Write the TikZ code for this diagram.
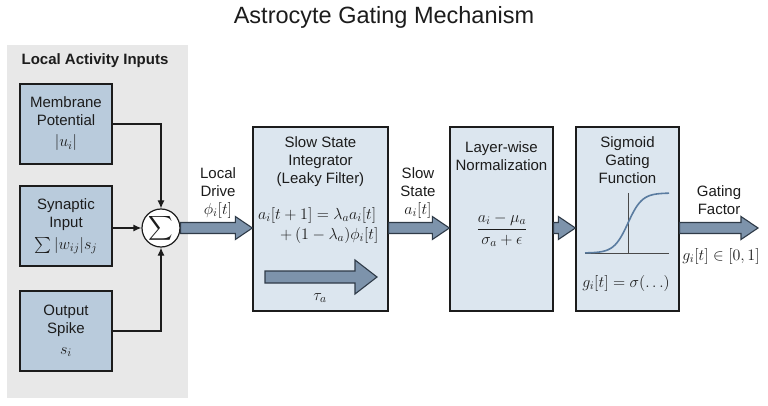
\RequirePackage{fix-cm}
\documentclass[tikz,border=0pt]{standalone}
\usepackage{amsmath, amssymb}
\usepackage{fontspec}
\setmainfont{Liberation Sans}
\usepackage{tikz}
\usetikzlibrary{calc, positioning, arrows.meta}
\DeclareMathSizes{15}{16}{11.5}{9}

\definecolor{panelgray}{HTML}{E8E8E8}
\definecolor{inputblue}{HTML}{B9CBDC}
\definecolor{stageblue}{HTML}{DCE6EF}
\definecolor{arrowblue}{HTML}{7D93AB}
\definecolor{arrowline}{HTML}{2F3B48}
\definecolor{curveblue}{HTML}{5A7CA0}
\definecolor{inkdark}{HTML}{1C1C1C}

\newcommand{\fatarrow}[2]{%
  \draw[bigarrow] let \p1=(#1), \p2=(#2) in
    (\x1,\y1+5.5) -- (\x2-17,\y1+5.5) -- (\x2-17,\y1+11.5) -- (\x2,\y1)
    -- (\x2-17,\y1-11.5) -- (\x2-17,\y1-5.5) -- (\x1,\y1-5.5) -- cycle;}

\begin{document}
\begin{tikzpicture}[x=1pt, y=-1pt,
  font=\fontsize{15}{18}\selectfont, text=inkdark,
  inbox/.style={draw=inkdark, line width=1.3pt, fill=inputblue, align=center,
    minimum width=92pt, minimum height=80pt, inner sep=2pt},
  stagebox/.style={draw=inkdark, line width=1.3pt, fill=stageblue,
    minimum height=184pt},
  boxtitle/.style={align=center, inner sep=0pt},
  wire/.style={draw=inkdark, line width=1.2pt, -{Latex[length=8pt,width=7pt]}},
  bigarrow/.style={draw=arrowline, line width=1.1pt, fill=arrowblue, line join=miter},
  lbl/.style={align=center, inner sep=0pt}]

\useasboundingbox (0,0) rectangle (768,406);
\fill[white] (0,0) rectangle (768,406);

\node (title) at (384,17) {\fontsize{23.5}{28}\selectfont Astrocyte Gating Mechanism};

% inputs panel
\fill[panelgray] (7,45) rectangle (188,398);
\node (paneltitle) at (95,61) {\bfseries Local Activity Inputs};

\node (memb) at (66,124) [inbox] {Membrane\\Potential\\[3pt]$|u_i|$};
\node (syn) at (66,226) [inbox] {Synaptic\\Input\\[4pt]$\sum |w_{ij}| s_j$};
\node (spike) at (66,331) [inbox] {Output\\Spike\\[3pt]$s_i$};

\node (sum) at (161,228) [circle, draw=inkdark, line width=1.2pt, fill=white,
  minimum size=38pt, inner sep=0pt] {\fontsize{17}{17}\selectfont$\displaystyle\sum$};

\draw[wire] (memb.east) -| (sum.north);
\draw[wire] (syn.east |- sum.west) -- (sum.west);
\draw[wire] (spike.east) -| (sum.south);

% processing stages
\node (integ) at (320.5,219) [stagebox, minimum width=135pt] {};
\node (norm) at (501.5,219) [stagebox, minimum width=103pt] {};
\node (sigm) at (627.5,219) [stagebox, minimum width=103pt] {};

\node (integT) [boxtitle, below=10pt of integ.north] {Slow State\\Integrator\\(Leaky Filter)};
\node (normT) [boxtitle, below=15pt of norm.north] {Layer-wise\\Normalization};
\node (sigmT) [boxtitle, below=10pt of sigm.north] {Sigmoid\\Gating\\Function};

\node (integEq) at (258,225) [anchor=west, align=left, inner sep=0pt]
  {$a_i[t+1] = \lambda_a a_i[t]$\\[2pt]\hspace*{22pt}$+\,(1-\lambda_a)\phi_i[t]$};
\draw[bigarrow] (265,271) -- (355,271) -- (355,260) -- (377,277) -- (355,294)
  -- (355,283) -- (265,283) -- cycle;
\node (tau) at (320,298) {$\tau_a$};

\node (normEq) at (502,230) {$\dfrac{a_i-\mu_a}{\sigma_a+\epsilon}$};

\draw[inkdark!80, line width=1pt] (585,253) -- (669,253);
\draw[inkdark!80, line width=1pt] (628,193) -- (628,253);
\draw[curveblue, line width=1.6pt] plot[domain=585:669, samples=80, smooth]
  (\x, {253-60/(1+exp(-(\x-628)/7))});
\node (sigmEq) at (626,283) {$g_i[t] = \sigma(\ldots)$};

% flow arrows
\coordinate (gateEnd) at (758,228);
\fatarrow{sum.east}{integ.west |- sum.east}
\fatarrow{integ.east |- sum.east}{norm.west |- sum.east}
\fatarrow{norm.east |- sum.east}{sigm.west |- sum.east}
\fatarrow{sigm.east |- sum.east}{gateEnd}

\node (driveL) at (218,193) [lbl] {Local\\Drive\\$\phi_i[t]$};
\node (stateL) at (418,193) [lbl] {Slow\\State\\$a_i[t]$};
\node (gateL) at (719,200) [lbl] {Gating\\Factor};
\node (gateV) at (721,256) [lbl] {$g_i[t] \in [0,1]$};

\end{tikzpicture}
\end{document}
